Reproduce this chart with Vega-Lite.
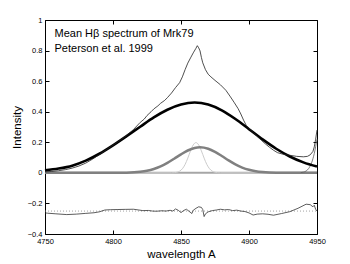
{
  "$schema": "https://vega.github.io/schema/vega-lite/v6.json",
  "width": 272,
  "height": 214,
  "autosize": {"type": "none"},
  "padding": {"left": 45, "top": 20, "right": 33, "bottom": 30},
  "background": "white",
  "config": {
    "view": {"stroke": "black", "strokeWidth": 1},
    "font": "Liberation Sans",
    "axis": {"grid": false, "domain": false, "tickColor": "black", "labelColor": "black", "labelFont": "Liberation Sans", "labelFontSize": 7.5, "tickSize": -4, "titleFont": "Liberation Sans", "titleFontWeight": "normal", "titleFontSize": 11.5, "titleColor": "black", "labelOverlap": false, "labelBound": false, "labelFlush": false}
  },
  "datasets": {
    "zero": [{"wl": 4750, "v": 0}, {"wl": 4950, "v": 0}],
    "dotted": [{"wl": 4750, "v": -0.25}, {"wl": 4950, "v": -0.25}],
    "broad": [
      {"wl": 4750, "v": 0.016}, {"wl": 4760, "v": 0.028}, {"wl": 4770, "v": 0.047}, {"wl": 4780, "v": 0.08},
      {"wl": 4790, "v": 0.125}, {"wl": 4800, "v": 0.18}, {"wl": 4810, "v": 0.24}, {"wl": 4820, "v": 0.302},
      {"wl": 4830, "v": 0.363}, {"wl": 4840, "v": 0.413}, {"wl": 4850, "v": 0.447}, {"wl": 4860, "v": 0.46},
      {"wl": 4870, "v": 0.4465}, {"wl": 4880, "v": 0.4084}, {"wl": 4890, "v": 0.352}, {"wl": 4900, "v": 0.2858},
      {"wl": 4910, "v": 0.2187}, {"wl": 4920, "v": 0.1577}, {"wl": 4930, "v": 0.1071}, {"wl": 4940, "v": 0.0685},
      {"wl": 4950, "v": 0.0414}
    ],
    "medium": [
      {"wl": 4750, "v": 0}, {"wl": 4800, "v": 0.0002}, {"wl": 4810, "v": 0.0014}, {"wl": 4820, "v": 0.0071},
      {"wl": 4825, "v": 0.0139}, {"wl": 4830, "v": 0.0253}, {"wl": 4835, "v": 0.0423}, {"wl": 4840, "v": 0.0652},
      {"wl": 4845, "v": 0.0926}, {"wl": 4850, "v": 0.1213}, {"wl": 4855, "v": 0.1463}, {"wl": 4860, "v": 0.1627},
      {"wl": 4864, "v": 0.167}, {"wl": 4870, "v": 0.1575}, {"wl": 4875, "v": 0.1371}, {"wl": 4880, "v": 0.11},
      {"wl": 4885, "v": 0.0813}, {"wl": 4890, "v": 0.0554}, {"wl": 4895, "v": 0.0348}, {"wl": 4900, "v": 0.0201},
      {"wl": 4905, "v": 0.0107}, {"wl": 4910, "v": 0.0053}, {"wl": 4920, "v": 0.001}, {"wl": 4950, "v": 0}
    ],
    "narrow": [
      {"wl": 4750, "v": 0}, {"wl": 4843, "v": 0.0002}, {"wl": 4845, "v": 0.0012}, {"wl": 4847, "v": 0.0039},
      {"wl": 4849, "v": 0.0111}, {"wl": 4851, "v": 0.0268}, {"wl": 4853, "v": 0.055}, {"wl": 4855, "v": 0.0964},
      {"wl": 4857, "v": 0.1438}, {"wl": 4859, "v": 0.1828}, {"wl": 4861, "v": 0.198}, {"wl": 4863, "v": 0.1828},
      {"wl": 4865, "v": 0.1438}, {"wl": 4867, "v": 0.0964}, {"wl": 4869, "v": 0.055}, {"wl": 4871, "v": 0.0268},
      {"wl": 4873, "v": 0.0111}, {"wl": 4875, "v": 0.0039}, {"wl": 4877, "v": 0.0012}, {"wl": 4879, "v": 0.0002},
      {"wl": 4950, "v": 0}
    ],
    "oiii": [
      {"wl": 4938, "v": 0.0015}, {"wl": 4940, "v": 0.0045}, {"wl": 4942, "v": 0.0123}, {"wl": 4944, "v": 0.0299},
      {"wl": 4946, "v": 0.065}, {"wl": 4948, "v": 0.1266}, {"wl": 4950, "v": 0.2208}
    ],
    "spectrum": [
      {"wl": 4750, "v": 0.006}, {"wl": 4755, "v": 0.009}, {"wl": 4760, "v": 0.014}, {"wl": 4765, "v": 0.021},
      {"wl": 4770, "v": 0.031}, {"wl": 4775, "v": 0.045}, {"wl": 4780, "v": 0.064}, {"wl": 4785, "v": 0.09},
      {"wl": 4790, "v": 0.12}, {"wl": 4795, "v": 0.151}, {"wl": 4800, "v": 0.181}, {"wl": 4805, "v": 0.212},
      {"wl": 4810, "v": 0.244}, {"wl": 4815, "v": 0.283}, {"wl": 4820, "v": 0.33}, {"wl": 4823, "v": 0.352},
      {"wl": 4825, "v": 0.375}, {"wl": 4828, "v": 0.4}, {"wl": 4830, "v": 0.418}, {"wl": 4833, "v": 0.438},
      {"wl": 4835, "v": 0.455}, {"wl": 4838, "v": 0.474}, {"wl": 4840, "v": 0.492}, {"wl": 4843, "v": 0.522},
      {"wl": 4846, "v": 0.558}, {"wl": 4849, "v": 0.59}, {"wl": 4851, "v": 0.628}, {"wl": 4853, "v": 0.675},
      {"wl": 4855, "v": 0.718}, {"wl": 4857, "v": 0.752}, {"wl": 4859, "v": 0.785}, {"wl": 4861, "v": 0.815},
      {"wl": 4862, "v": 0.832}, {"wl": 4863, "v": 0.818}, {"wl": 4864, "v": 0.798}, {"wl": 4865, "v": 0.755},
      {"wl": 4866, "v": 0.72}, {"wl": 4868, "v": 0.675}, {"wl": 4870, "v": 0.645}, {"wl": 4872, "v": 0.628},
      {"wl": 4875, "v": 0.605}, {"wl": 4879, "v": 0.576}, {"wl": 4883, "v": 0.54}, {"wl": 4886, "v": 0.502},
      {"wl": 4889, "v": 0.462}, {"wl": 4892, "v": 0.42}, {"wl": 4894, "v": 0.385}, {"wl": 4896, "v": 0.345},
      {"wl": 4898, "v": 0.31}, {"wl": 4900, "v": 0.29}, {"wl": 4903, "v": 0.265}, {"wl": 4906, "v": 0.238},
      {"wl": 4909, "v": 0.214}, {"wl": 4912, "v": 0.19}, {"wl": 4915, "v": 0.168}, {"wl": 4918, "v": 0.148},
      {"wl": 4921, "v": 0.132}, {"wl": 4925, "v": 0.122}, {"wl": 4930, "v": 0.115}, {"wl": 4935, "v": 0.108},
      {"wl": 4940, "v": 0.105}, {"wl": 4943, "v": 0.108}, {"wl": 4945, "v": 0.118}, {"wl": 4947, "v": 0.14},
      {"wl": 4948, "v": 0.17}, {"wl": 4949, "v": 0.22}, {"wl": 4950, "v": 0.28}
    ],
    "residual": [
      {"wl": 4750, "v": -0.262}, {"wl": 4752, "v": -0.264}, {"wl": 4758, "v": -0.268}, {"wl": 4766, "v": -0.273},
      {"wl": 4773, "v": -0.27}, {"wl": 4780, "v": -0.265}, {"wl": 4786, "v": -0.261}, {"wl": 4790, "v": -0.255},
      {"wl": 4794, "v": -0.243}, {"wl": 4798, "v": -0.241}, {"wl": 4803, "v": -0.24}, {"wl": 4809, "v": -0.239},
      {"wl": 4815, "v": -0.238}, {"wl": 4819, "v": -0.243}, {"wl": 4822, "v": -0.247}, {"wl": 4826, "v": -0.246},
      {"wl": 4829, "v": -0.25}, {"wl": 4832, "v": -0.251}, {"wl": 4836, "v": -0.248}, {"wl": 4839, "v": -0.25},
      {"wl": 4842, "v": -0.245}, {"wl": 4844, "v": -0.25}, {"wl": 4846, "v": -0.236}, {"wl": 4848, "v": -0.245},
      {"wl": 4850, "v": -0.26}, {"wl": 4852, "v": -0.246}, {"wl": 4854, "v": -0.238}, {"wl": 4856, "v": -0.252},
      {"wl": 4858, "v": -0.266}, {"wl": 4859, "v": -0.245}, {"wl": 4861, "v": -0.232}, {"wl": 4863, "v": -0.222},
      {"wl": 4865, "v": -0.226}, {"wl": 4866, "v": -0.24}, {"wl": 4867, "v": -0.286}, {"wl": 4868, "v": -0.268},
      {"wl": 4870, "v": -0.255}, {"wl": 4873, "v": -0.247}, {"wl": 4876, "v": -0.243}, {"wl": 4879, "v": -0.238},
      {"wl": 4882, "v": -0.242}, {"wl": 4885, "v": -0.24}, {"wl": 4888, "v": -0.247}, {"wl": 4891, "v": -0.244},
      {"wl": 4894, "v": -0.25}, {"wl": 4897, "v": -0.253}, {"wl": 4900, "v": -0.262}, {"wl": 4903, "v": -0.276},
      {"wl": 4906, "v": -0.27}, {"wl": 4910, "v": -0.268}, {"wl": 4914, "v": -0.271}, {"wl": 4918, "v": -0.277},
      {"wl": 4924, "v": -0.266}, {"wl": 4930, "v": -0.254}, {"wl": 4936, "v": -0.232}, {"wl": 4942, "v": -0.205},
      {"wl": 4945, "v": -0.208}, {"wl": 4947, "v": -0.222}, {"wl": 4948, "v": -0.212}, {"wl": 4949, "v": -0.238},
      {"wl": 4950, "v": -0.25}
    ],
    "labels": [
      {"wl": 4757, "v": 0.889, "t": "Mean Hβ spectrum of Mrk79"},
      {"wl": 4757, "v": 0.791, "t": "Peterson et al. 1999"}
    ]
  },
  "resolve": {"axis": {"x": "independent", "y": "independent"}},
  "layer": [
    {
      "data": {"name": "zero"},
      "mark": {"type": "line", "color": "#a6a6a6", "strokeWidth": 2},
      "encoding": {
        "x": {"field": "wl", "type": "quantitative", "scale": {"domain": [4750, 4950], "nice": false, "zero": false},
              "axis": {"values": [4750, 4800, 4850, 4900, 4950], "title": "wavelength A", "labelPadding": 7, "titlePadding": 4, "format": "d"}},
        "y": {"field": "v", "type": "quantitative", "scale": {"domain": [-0.4, 1], "nice": false},
              "axis": {"values": [-0.4, -0.2, 0, 0.2, 0.4, 0.6, 0.8, 1], "title": "Intensity", "format": ".1~f", "labelPadding": 7, "titlePadding": 5}}
      }
    },
    {
      "data": {"name": "zero"},
      "mark": {"type": "line", "opacity": 0},
      "encoding": {
        "x": {"field": "wl", "type": "quantitative", "axis": {"orient": "top", "values": [4750, 4800, 4850, 4900, 4950], "labels": false, "title": null}},
        "y": {"field": "v", "type": "quantitative", "axis": {"orient": "right", "values": [-0.4, -0.2, 0, 0.2, 0.4, 0.6, 0.8, 1], "labels": false, "title": null}}
      }
    },
    {
      "data": {"name": "narrow"},
      "mark": {"type": "line", "color": "#cccccc", "strokeWidth": 1, "interpolate": "monotone"},
      "encoding": {
        "x": {"field": "wl", "type": "quantitative", "axis": null},
        "y": {"field": "v", "type": "quantitative", "axis": null}
      }
    },
    {
      "data": {"name": "medium"},
      "mark": {"type": "line", "color": "#808080", "strokeWidth": 2.5, "interpolate": "monotone"},
      "encoding": {
        "x": {"field": "wl", "type": "quantitative", "axis": null},
        "y": {"field": "v", "type": "quantitative", "axis": null}
      }
    },
    {
      "data": {"name": "oiii"},
      "mark": {"type": "line", "color": "#606060", "strokeWidth": 0.8, "interpolate": "monotone"},
      "encoding": {
        "x": {"field": "wl", "type": "quantitative", "axis": null},
        "y": {"field": "v", "type": "quantitative", "axis": null}
      }
    },
    {
      "data": {"name": "broad"},
      "mark": {"type": "line", "color": "black", "strokeWidth": 2.6, "interpolate": "monotone"},
      "encoding": {
        "x": {"field": "wl", "type": "quantitative", "axis": null},
        "y": {"field": "v", "type": "quantitative", "axis": null}
      }
    },
    {
      "data": {"name": "spectrum"},
      "mark": {"type": "line", "color": "#222222", "strokeWidth": 0.8},
      "encoding": {
        "x": {"field": "wl", "type": "quantitative", "axis": null},
        "y": {"field": "v", "type": "quantitative", "axis": null}
      }
    },
    {
      "data": {"name": "dotted"},
      "mark": {"type": "line", "color": "#8a8a8a", "strokeWidth": 0.8, "strokeDash": [1, 2]},
      "encoding": {
        "x": {"field": "wl", "type": "quantitative", "axis": null},
        "y": {"field": "v", "type": "quantitative", "axis": null}
      }
    },
    {
      "data": {"name": "residual"},
      "mark": {"type": "line", "color": "#333333", "strokeWidth": 0.8},
      "encoding": {
        "x": {"field": "wl", "type": "quantitative", "axis": null},
        "y": {"field": "v", "type": "quantitative", "axis": null}
      }
    },
    {
      "data": {"name": "labels"},
      "mark": {"type": "text", "align": "left", "baseline": "alphabetic", "fontSize": 11, "font": "Liberation Sans", "color": "black"},
      "encoding": {
        "x": {"field": "wl", "type": "quantitative", "axis": null},
        "y": {"field": "v", "type": "quantitative", "axis": null},
        "text": {"field": "t", "type": "nominal"}
      }
    }
  ]
}
